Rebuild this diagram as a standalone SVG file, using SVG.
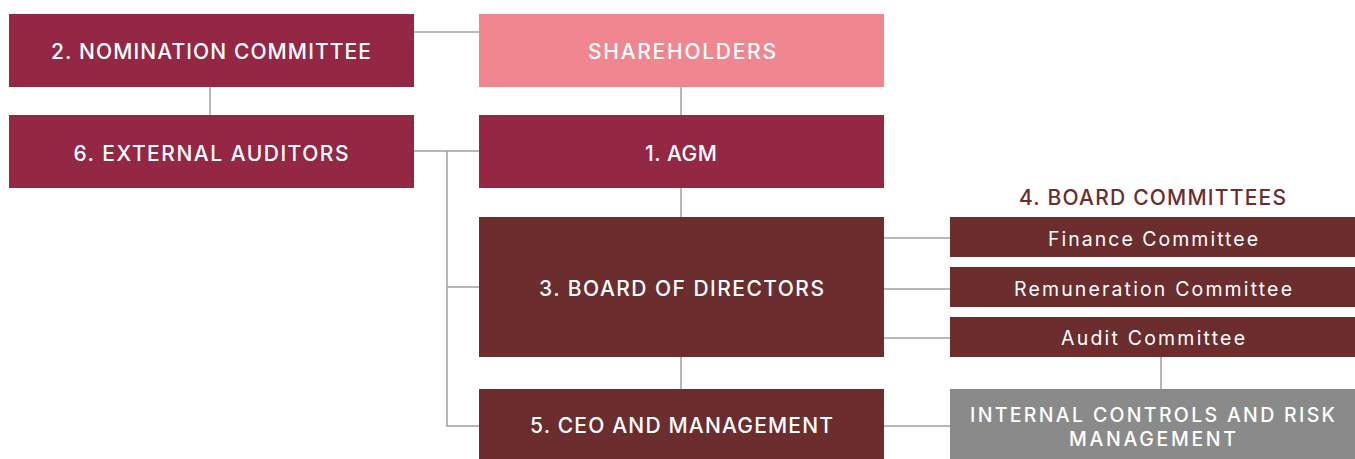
<svg xmlns="http://www.w3.org/2000/svg" width="1355" height="459" viewBox="0 0 1355 459">
  <style>
    .crimson { fill: #942744; }
    .brown { fill: #6b2d2d; }
    .pink { fill: #f0868f; }
    .grey { fill: #8a8a8a; }
    .lbl { font-family: Inter, "Open Sans", "Liberation Sans", sans-serif; font-weight: 500; font-size: 21px; fill: #ffffff; text-anchor: middle; }
    .two { font-size: 19.5px; }
    .sub { font-family: Inter, "Open Sans", "Liberation Sans", sans-serif; font-weight: 400; font-size: 19.5px; fill: #ffffff; text-anchor: middle; }
    .title { font-family: Inter, "Open Sans", "Liberation Sans", sans-serif; font-weight: 500; font-size: 21px; fill: #6b2d2d; text-anchor: middle; }
    .conn { stroke: #a0a0a0; stroke-width: 1.5; fill: none; }
  </style>

  <!-- connectors -->
  <g id="connectors">
    <path class="conn" d="M414 32 H479"/>
    <path class="conn" d="M210 87 V115"/>
    <path class="conn" d="M681 87 V115"/>
    <path class="conn" d="M414 151 H479"/>
    <path class="conn" d="M447 151 V426 H479"/>
    <path class="conn" d="M447 287 H479"/>
    <path class="conn" d="M681 188 V217"/>
    <path class="conn" d="M681 357 V389"/>
    <path class="conn" d="M884 238 H950"/>
    <path class="conn" d="M884 289 H950"/>
    <path class="conn" d="M884 338 H950"/>
    <path class="conn" d="M884 426 H950"/>
    <path class="conn" d="M1161 357 V389"/>
  </g>

  <g id="nomination">
    <rect class="crimson" x="9" y="14" width="405" height="73"/>
    <text class="lbl" x="211" y="59" textLength="320" lengthAdjust="spacing">2. NOMINATION COMMITTEE</text>
  </g>
  <g id="shareholders">
    <rect class="pink" x="479" y="14" width="405" height="73"/>
    <text class="lbl" x="682" y="58.5" textLength="188" lengthAdjust="spacing">SHAREHOLDERS</text>
  </g>
  <g id="external-auditors">
    <rect class="crimson" x="9" y="115" width="405" height="73"/>
    <text class="lbl" x="211" y="161" textLength="275" lengthAdjust="spacing">6. EXTERNAL AUDITORS</text>
  </g>
  <g id="agm">
    <rect class="crimson" x="479" y="115" width="405" height="73"/>
    <text class="lbl" x="681" y="161" textLength="72" lengthAdjust="spacing">1. AGM</text>
  </g>
  <g id="board">
    <rect class="brown" x="479" y="217" width="405" height="140"/>
    <text class="lbl" x="681.5" y="296" textLength="285" lengthAdjust="spacing">3. BOARD OF DIRECTORS</text>
  </g>
  <g id="ceo">
    <rect class="brown" x="479" y="389" width="405" height="70"/>
    <text class="lbl" x="681.5" y="433" textLength="303" lengthAdjust="spacing">5. CEO AND MANAGEMENT</text>
  </g>
  <g id="board-committees">
    <text class="title" x="1152.5" y="205" textLength="267" lengthAdjust="spacing">4. BOARD COMMITTEES</text>
  </g>
  <g id="finance">
    <rect class="brown" x="950" y="217" width="405" height="40"/>
    <text class="sub" x="1153" y="246" textLength="210" lengthAdjust="spacing">Finance Committee</text>
  </g>
  <g id="remuneration">
    <rect class="brown" x="950" y="267" width="405" height="40"/>
    <text class="sub" x="1153" y="296" textLength="278" lengthAdjust="spacing">Remuneration Committee</text>
  </g>
  <g id="audit">
    <rect class="brown" x="950" y="317" width="405" height="40"/>
    <text class="sub" x="1153" y="345" textLength="184" lengthAdjust="spacing">Audit Committee</text>
  </g>
  <g id="internal-controls">
    <rect class="grey" x="950" y="389" width="405" height="70"/>
    <text class="lbl two" x="1152.5" y="422" textLength="365" lengthAdjust="spacing">INTERNAL CONTROLS AND RISK</text>
    <text class="lbl two" x="1152.5" y="446" textLength="167" lengthAdjust="spacing">MANAGEMENT</text>
  </g>
</svg>
